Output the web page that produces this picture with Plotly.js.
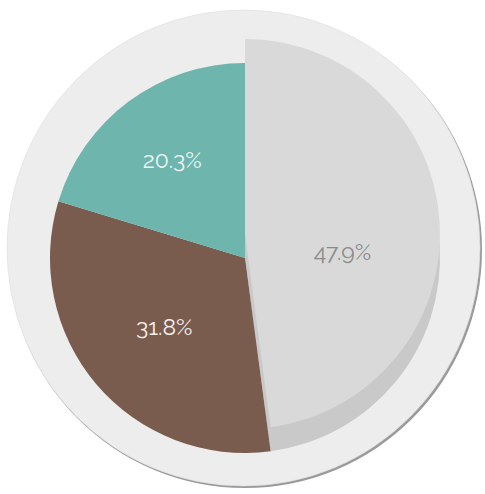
<!DOCTYPE html>
<html>
<head>
<meta charset="utf-8">
<script src="https://cdn.plot.ly/plotly-3.0.1.min.js"></script>
<style>
  html, body { margin: 0; padding: 0; background: #ffffff; }
  #chart { width: 485px; height: 494px; }
</style>
</head>
<body>
<div id="chart"></div>
<script>
// Share of the three groups, drawn clockwise from 12 o'clock
const categories = ['Grey', 'Brown', 'Teal'];
const shares = [47.9, 31.8, 20.3];
const sliceColors = ['#d9d9d9', '#7a5c4f', '#6db5ad'];
const shadowColor = '#c9c9c9';
const labelColors = ['#8a8a8a', '#f4efe9', '#eef7f5'];

const W = 485, H = 494;

// pixel box -> paper domain helper (cx, cy from top-left, r radius)
function domainFor(cx, cy, r) {
  return {
    x: [(cx - r) / W, (cx + r) / W],
    y: [(H - cy - r) / H, (H - cy + r) / H]
  };
}

const pieCx = 245, pieCy = 258, pieR = 195;
const lift = 24; // the grey slice sits raised above its own shadow
const clear = 'rgba(0,0,0,0)';
const fontFam = 'Raleway, Lato, "Open Sans", sans-serif';

function pieBase(cy, colors) {
  return {
    type: 'pie',
    labels: categories,
    values: shares,
    sort: false,
    direction: 'clockwise',
    rotation: 0,
    domain: domainFor(pieCx, cy, pieR),
    marker: { colors: colors, line: { width: 0 } },
    textinfo: 'none',
    hoverinfo: 'skip',
    showlegend: false
  };
}

// shadow of the grey slice, at the pie's own position
const shadowPie = pieBase(pieCy, [shadowColor, clear, clear]);

// raised face of the grey slice
const facePie = pieBase(pieCy - lift, [sliceColors[0], clear, clear]);

// teal and brown slices, plus every percentage label
const mainPie = pieBase(pieCy, [clear, sliceColors[1], sliceColors[2]]);
mainPie.textinfo = undefined;
mainPie.texttemplate = '%{percent:.1%}';
mainPie.textposition = 'inside';
mainPie.insidetextorientation = 'horizontal';
mainPie.textfont = { family: fontFam, size: 23, color: labelColors };

const layout = {
  width: W,
  height: H,
  margin: { l: 0, r: 0, t: 0, b: 0 },
  paper_bgcolor: '#ffffff',
  plot_bgcolor: '#ffffff',
  showlegend: false,
  shapes: [
    // soft rim shadow of the plate
    {
      type: 'circle', xref: 'paper', yref: 'paper', layer: 'below',
      x0: 8 / W, x1: 482 / W, y0: (H - 488) / H, y1: (H - 12) / H,
      fillcolor: '#9a9a9a', line: { width: 0 }
    },
    // the plate behind the pie
    {
      type: 'circle', xref: 'paper', yref: 'paper', layer: 'below',
      x0: 7 / W, x1: 480 / W, y0: (H - 486) / H, y1: (H - 10) / H,
      fillcolor: '#ededed', line: { color: '#dedede', width: 0.6 }
    }
  ]
};

Plotly.newPlot('chart', [shadowPie, facePie, mainPie], layout, { staticPlot: true, displayModeBar: false });
</script>
</body>
</html>
